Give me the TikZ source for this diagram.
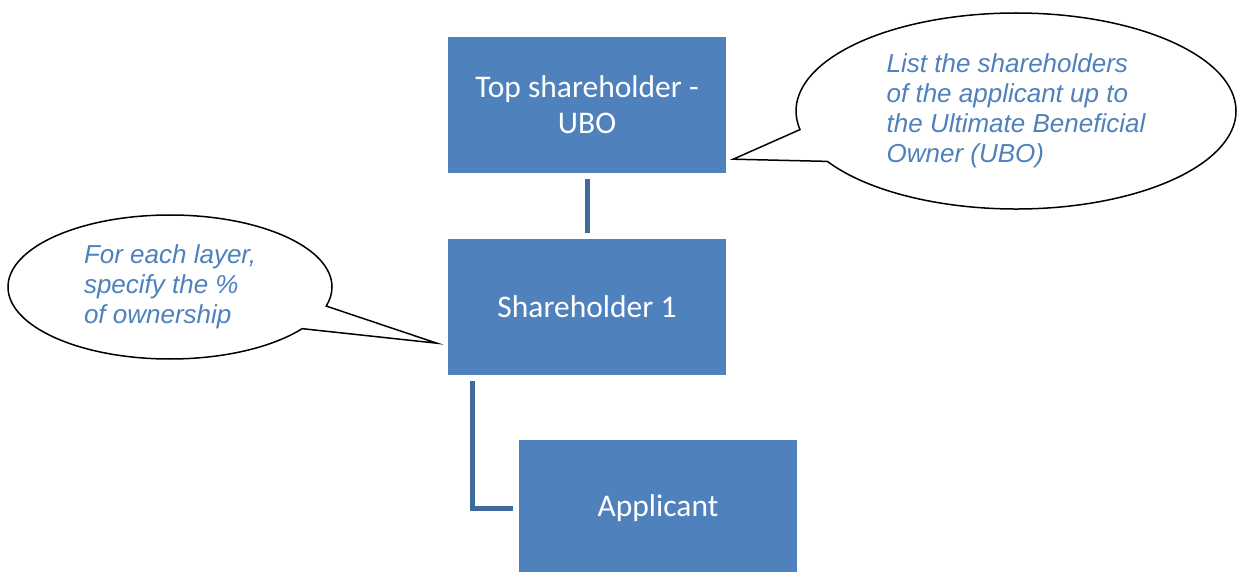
\documentclass[tikz,border=0pt]{standalone}
\usepackage{fontspec}
\setmainfont{Carlito}
\newfontfamily\notefont{Liberation Sans}
\usetikzlibrary{shapes.callouts}
\definecolor{boxblue}{RGB}{79,129,189}
\definecolor{lineblue}{RGB}{64,106,156}

\begin{document}
\begin{tikzpicture}[x=1pt,y=-1pt,
	box/.style={fill=boxblue,text=white,minimum width=278pt,minimum height=136pt,inner sep=0pt,align=center,font=\fontsize{31.5}{36}\selectfont},
	link/.style={draw=lineblue,line width=5pt,shorten <=6pt,shorten >=6pt},
	note/.style={ellipse callout,draw=black,line width=1.5pt,fill=white,inner sep=0pt,align=left,text=boxblue,callout pointer arc=20,font=\notefont\itshape\fontsize{26}{30}\selectfont}]
	\useasboundingbox (0,0) rectangle (1237,572);
	\node[box] (top) at (587,105) {Top shareholder -\\UBO};
	\node[box] (sh1) at (587,307) {Shareholder 1};
	\node[box] (app) at (658,508) {Applicant};
	\draw[link] (top) -- (sh1);
	\draw[link] ([xshift=25pt]sh1.south west) |- (app.west);
	% callouts
	\node[note,minimum width=440pt,minimum height=196pt,callout absolute pointer={([xshift=7pt,yshift=14pt]top.south east)}] (noteubo) at (1016,111) {List the shareholders\\of the applicant up to\\the Ultimate Beneficial\\Owner (UBO)};
	\node[note,minimum width=324pt,minimum height=144pt,callout absolute pointer={([xshift=-11pt,yshift=32pt]sh1.south west)}] (notelayer) at (170,287) {For each layer,\\specify the \%\\of ownership};
\end{tikzpicture}
\end{document}
